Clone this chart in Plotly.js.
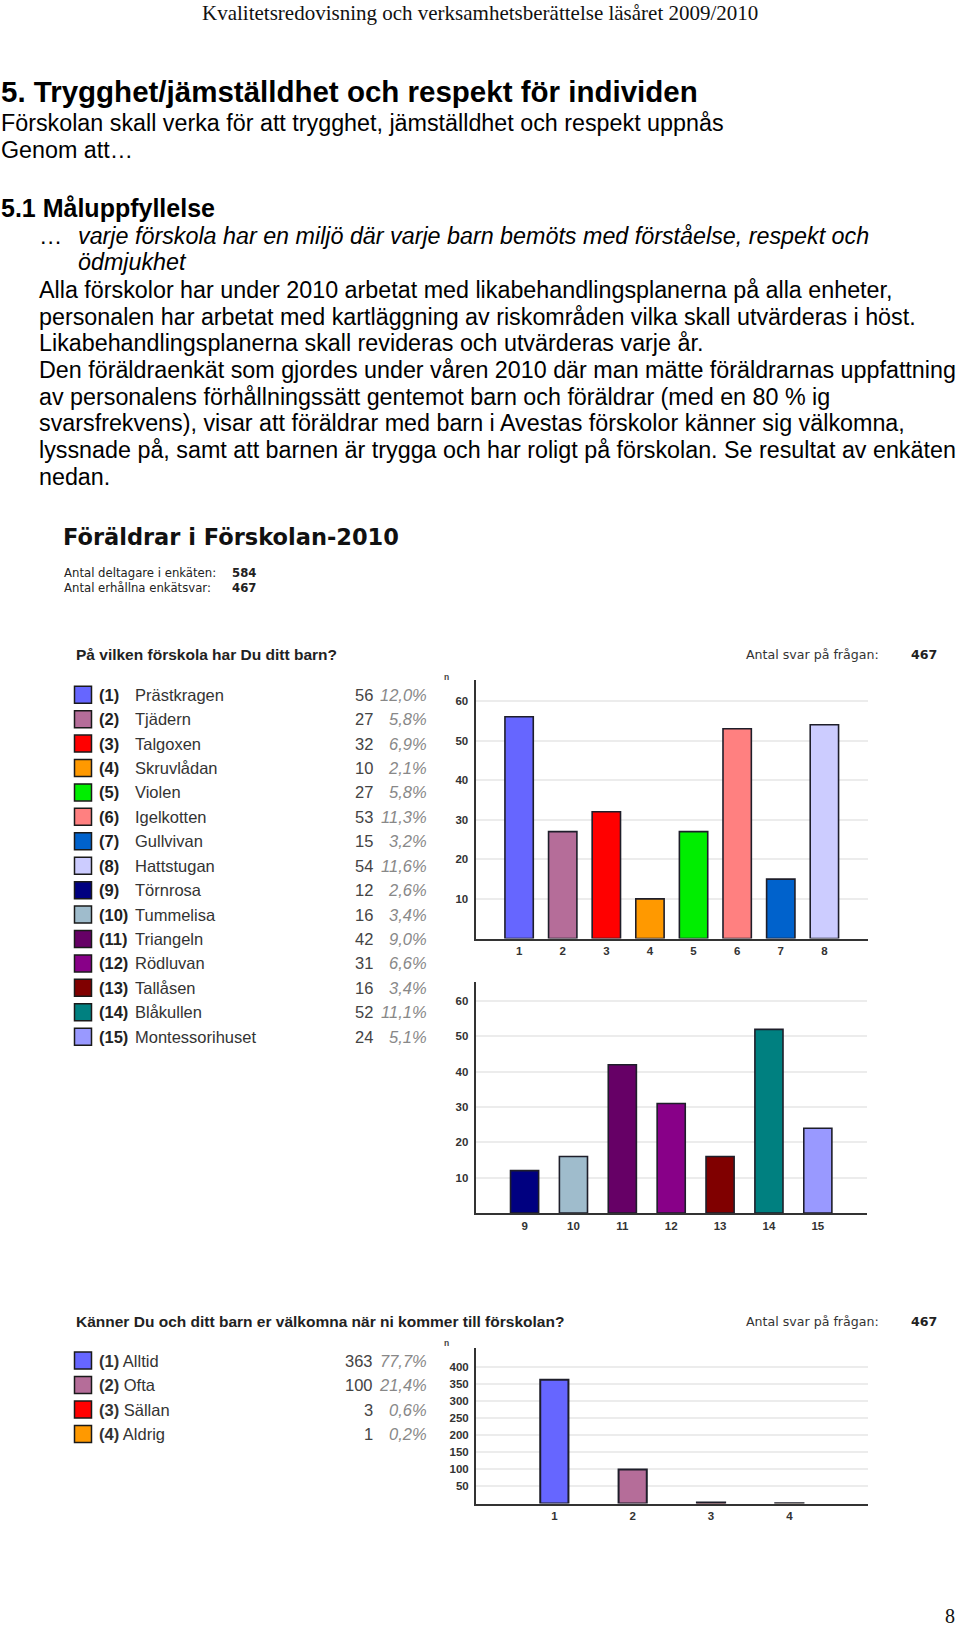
<!DOCTYPE html>
<html>
<head>
<meta charset="utf-8">
<script src="https://cdn.plot.ly/plotly-3.0.1.min.js"></script>
<style>
html,body{margin:0;padding:0;background:#fff;}
#page{width:960px;height:1627px;}
</style>
</head>
<body>
<div id="page"></div>
<script>
// ---------- data ----------
const schoolIds = [1,2,3,4,5,6,7,8,9,10,11,12,13,14,15];
const schoolNames = ['Prästkragen','Tjädern','Talgoxen','Skruvlådan','Violen','Igelkotten','Gullvivan','Hattstugan','Törnrosa','Tummelisa','Triangeln','Rödluvan','Tallåsen','Blåkullen','Montessorihuset'];
const schoolCounts = [56,27,32,10,27,53,15,54,12,16,42,31,16,52,24];
const schoolPercents = ['12,0%','5,8%','6,9%','2,1%','5,8%','11,3%','3,2%','11,6%','2,6%','3,4%','9,0%','6,6%','3,4%','11,1%','5,1%'];
const schoolColors = ['#6666ff','#b56d99','#ff0000','#ff9900','#00ee00','#ff8080','#0062cc','#ccccff','#000080','#9fbccc','#660066','#880088','#800000','#008080','#9999ff'];

const welcomeIds = [1,2,3,4];
const welcomeLabels = ['Alltid','Ofta','Sällan','Aldrig'];
const welcomeCounts = [363,100,3,1];
const welcomePercents = ['77,7%','21,4%','0,6%','0,2%'];
const welcomeColors = ['#6666ff','#b56d99','#ff0000','#ff9900'];

const schoolTicks = [10,20,30,40,50,60];
const welcomeTicks = [50,100,150,200,250,300,350,400];

const headerText = 'Kvalitetsredovisning och verksamhetsberättelse läsåret 2009/2010';
const bodyLines = [
  'Alla förskolor har under 2010 arbetat med likabehandlingsplanerna på alla enheter,',
  'personalen har arbetat med kartläggning av riskområden vilka skall utvärderas i höst.',
  'Likabehandlingsplanerna skall revideras och utvärderas varje år.',
  'Den föräldraenkät som gjordes under våren 2010 där man mätte föräldrarnas uppfattning',
  'av personalens förhållningssätt gentemot barn och föräldrar (med en 80 % ig',
  'svarsfrekvens), visar att föräldrar med barn i Avestas förskolor känner sig välkomna,',
  'lyssnade på, samt att barnen är trygga och har roligt på förskolan. Se resultat av enkäten',
  'nedan.'
];

// ---------- helpers ----------
const W = 960, H = 1627;
const px = x => x / W;
const py = y => 1 - y / H;
const SANS = 'Liberation Sans, Arial, sans-serif';
const VERD = 'DejaVu Sans, Verdana, sans-serif';
const SERIF = 'Liberation Serif, Times New Roman, serif';

const annotations = [];
const shapes = [];
function txt(x, y, text, opts) {
  opts = opts || {};
  annotations.push({
    xref: 'paper', yref: 'paper', x: px(x), y: py(y), text: text,
    xanchor: opts.anchor || 'left', yanchor: 'middle', showarrow: false,
    font: {family: opts.family || SANS, size: opts.size || 23, color: opts.color || '#000',
           weight: opts.weight || 'normal', style: opts.style || 'normal'}
  });
}

// ---------- document text ----------
txt(480, 13, headerText, {family: SERIF, size: 21, anchor: 'center', color: '#111'});
txt(-1, 91, '5. Trygghet/jämställdhet och respekt för individen', {size: 29.5, weight: 'bold'});
txt(-1, 123, 'Förskolan skall verka för att trygghet, jämställdhet och respekt uppnås', {size: 23.3});
txt(-1, 150, 'Genom att…', {size: 23.3});
txt(-1, 208, '5.1 Måluppfyllelse', {size: 25, weight: 'bold'});
txt(37, 236, '…', {size: 23.3});
txt(76, 236, 'varje förskola har en miljö där varje barn bemöts med förståelse, respekt och', {size: 23.3, style: 'italic'});
txt(76, 262, 'ödmjukhet', {size: 23.3, style: 'italic'});
bodyLines.forEach((l, i) => txt(37, 290 + i * 26.65, l, {size: 23.3}));

// ---------- survey header ----------
txt(61, 537, 'Föräldrar i Förskolan-2010', {family: VERD, size: 22.5, weight: 'bold', color: '#111'});
txt(62, 573, 'Antal deltagare i enkäten:', {family: VERD, size: 11.7, color: '#222'});
txt(258, 573, '584', {family: VERD, size: 11.7, weight: 'bold', color: '#222', anchor: 'right'});
txt(62, 588, 'Antal erhållna enkätsvar:', {family: VERD, size: 11.7, color: '#222'});
txt(258, 588, '467', {family: VERD, size: 11.7, weight: 'bold', color: '#222', anchor: 'right'});

// ---------- question blocks ----------
function questionHeader(y, title) {
  txt(74, y, title, {size: 15.5, weight: 'bold', color: '#222'});
  txt(744, y, 'Antal svar på frågan:', {family: VERD, size: 12.6, color: '#333'});
  txt(939, y, '467', {family: VERD, size: 12.6, weight: 'bold', color: '#222', anchor: 'right'});
}
questionHeader(654, 'På vilken förskola har Du ditt barn?');
questionHeader(1321, 'Känner Du och ditt barn er välkomna när ni kommer till förskolan?');

function legendRow(y, color, numLabel, name, count, pct, nameX) {
  shapes.push({type: 'rect', xref: 'paper', yref: 'paper',
    x0: px(74.5), x1: px(91.5), y0: py(y + 8.5), y1: py(y - 8.5),
    fillcolor: color, line: {color: '#1a1a1a', width: 1.5}});
  if (nameX) {
    txt(97, y, '<b>(' + numLabel + ')</b>', {size: 16.5, color: '#222'});
    txt(nameX, y, name, {size: 16.5, color: '#333'});
  } else {
    txt(97, y, '<b>(' + numLabel + ')</b> ' + name, {size: 16.5, color: '#333'});
  }
  txt(375, y, String(count), {size: 16.5, color: '#444', anchor: 'right'});
  txt(429, y, '<i>' + pct + '</i>', {size: 16.5, color: '#888', anchor: 'right'});
}
schoolIds.forEach((id, i) => legendRow(694.7 + i * 24.43, schoolColors[i], id, schoolNames[i], schoolCounts[i], schoolPercents[i], 133));
welcomeIds.forEach((id, i) => legendRow(1360.5 + i * 24.5, welcomeColors[i], id, welcomeLabels[i], welcomeCounts[i], welcomePercents[i], null));

// small "n" axis markers
txt(446, 677, 'n', {size: 8.5, weight: 'bold', color: '#444', anchor: 'center'});
txt(446, 1343, 'n', {size: 8.5, weight: 'bold', color: '#444', anchor: 'center'});

// ---------- charts ----------
const barLine = {color: '#1e1e2a', width: 1.6};
const traces = [
  {type: 'bar', x: schoolIds.slice(0, 8), y: schoolCounts.slice(0, 8), width: 0.65,
   marker: {color: schoolColors.slice(0, 8), line: barLine}, xaxis: 'x', yaxis: 'y', hoverinfo: 'none'},
  {type: 'bar', x: schoolIds.slice(8), y: schoolCounts.slice(8), width: 0.575,
   marker: {color: schoolColors.slice(8), line: barLine}, xaxis: 'x2', yaxis: 'y2', hoverinfo: 'none'},
  {type: 'bar', x: welcomeIds, y: welcomeCounts, width: 0.36,
   marker: {color: welcomeColors, line: {color: '#1e1e2a', width: 2}}, xaxis: 'x3', yaxis: 'y3', hoverinfo: 'none'}
];

const tickFont = {family: 'Liberation Sans Narrow, ' + SANS, size: 11.5, color: '#333', weight: 'bold'};
function xAx(domain, range, vals, anchor) {
  return {domain: [px(domain[0]), px(domain[1])], range: range, anchor: anchor,
    tickmode: 'array', tickvals: vals, ticktext: vals.map(String),
    showline: true, linecolor: '#333', linewidth: 2, showgrid: false, zeroline: false,
    ticks: '', tickfont: tickFont, fixedrange: true, ticklabelstandoff: 1};
}
function yAx(top, bottom, range, vals, anchor) {
  return {domain: [py(bottom), py(top)], range: range, anchor: anchor,
    tickmode: 'array', tickvals: vals, ticktext: vals.map(String),
    showline: true, linecolor: '#333', linewidth: 2, showgrid: true, gridcolor: '#ececec', gridwidth: 2,
    zeroline: false, ticks: '', tickfont: tickFont, fixedrange: true, ticklabelstandoff: 3};
}

const layout = {
  width: W, height: H, margin: {l: 0, r: 0, t: 0, b: 0},
  paper_bgcolor: '#ffffff', plot_bgcolor: 'rgba(0,0,0,0)', showlegend: false,
  bargap: 0,
  xaxis: xAx([475.5, 868], [0, 9], schoolIds.slice(0, 8), 'y'),
  yaxis: yAx(680, 938.5, [0, 65.3], schoolTicks, 'x'),
  xaxis2: xAx([475.7, 866.7], [8, 16], schoolIds.slice(8), 'y2'),
  yaxis2: yAx(981.7, 1213, [0, 65.5], schoolTicks, 'x2'),
  xaxis3: xAx([476, 867.7], [0, 5], welcomeIds, 'y3'),
  yaxis3: yAx(1348, 1503.5, [0, 456], welcomeTicks, 'x3'),
  annotations: annotations.concat([
    {xref: 'paper', yref: 'paper', x: px(957), y: py(1616), text: '8', showarrow: false,
     xanchor: 'right', yanchor: 'middle', font: {family: SERIF, size: 20, color: '#111'}}
  ]),
  shapes: shapes
};

Plotly.newPlot('page', traces, layout, {staticPlot: true, displayModeBar: false});
</script>
</body>
</html>
